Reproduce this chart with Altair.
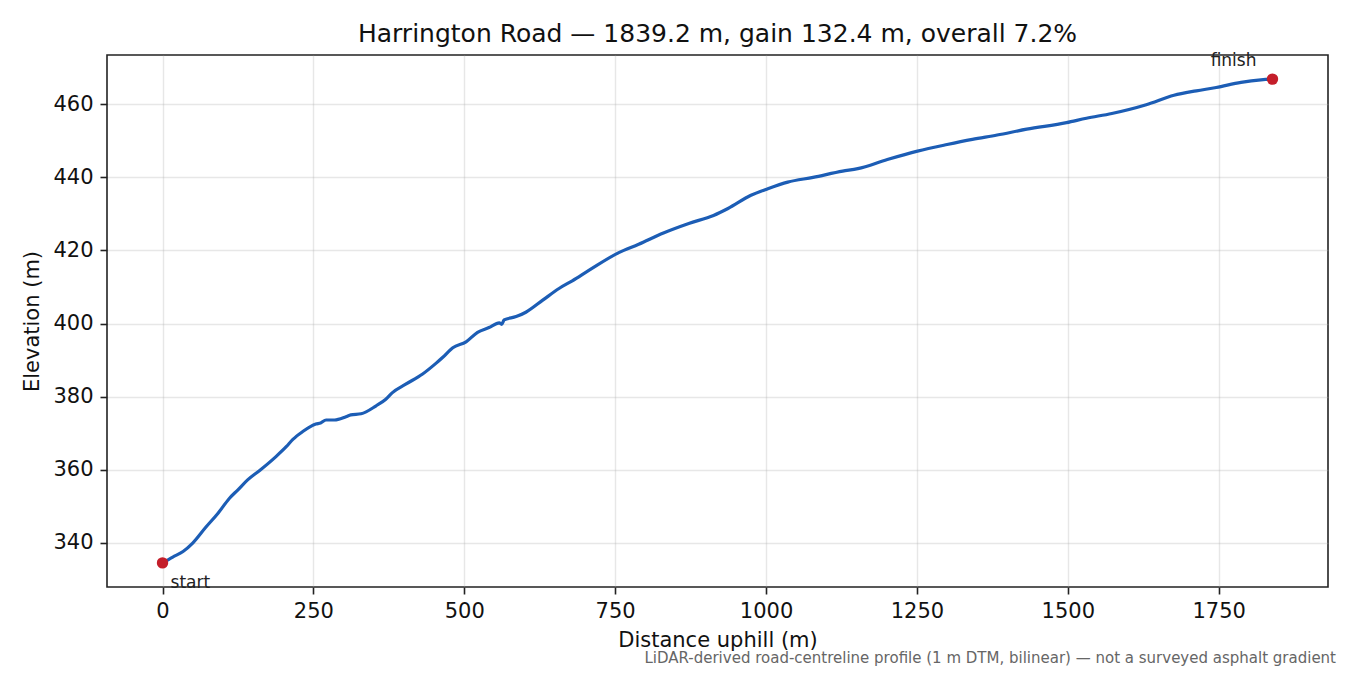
import altair as alt
import pandas as pd

FONT = "DejaVu Sans"
LINE_COLOR = "#1c5db5"
POINT_COLOR = "#c41e2a"

# distance along the road (m) and elevation (m)
distance = [0, 17, 34, 50, 72, 92, 111, 125, 141, 161, 188, 205, 216, 232, 254,
            262, 271, 285, 304, 312, 329, 354, 370, 381, 403, 431, 453, 464, 481,
            503, 522, 541, 558, 562, 566, 586, 602, 630, 657, 679, 707, 756, 789,
            830, 872, 913, 937, 975, 1003, 1036, 1078, 1127, 1152, 1201, 1251,
            1300, 1342, 1383, 1432, 1498, 1531, 1573, 1630, 1676, 1713, 1746,
            1787, 1820, 1839.2]
elevation = [334.5, 336.1, 337.6, 339.9, 344.3, 348.1, 352.2, 354.5, 357.2, 359.8,
             363.6, 366.3, 368.3, 370.4, 372.5, 372.8, 373.6, 373.6, 374.5, 375.0,
             375.3, 377.5, 379.3, 381.1, 383.4, 386.2, 389.1, 390.7, 393.4, 395.0,
             397.6, 398.9, 400.2, 399.8, 401.0, 401.9, 403.1, 406.4, 409.6, 411.7,
             414.6, 419.4, 421.7, 424.8, 427.4, 429.6, 431.5, 435.1, 436.9, 438.7,
             440.0, 441.7, 442.4, 444.9, 447.2, 449.0, 450.4, 451.6, 453.2, 455.0,
             456.2, 457.5, 459.9, 462.5, 463.7, 464.6, 466.0, 466.7, 466.9]

end_labels = ["start", "finish"]
end_distance = [0, 1839.2]
end_elevation = [334.5, 466.9]

x_ticks = [0, 250, 500, 750, 1000, 1250, 1500, 1750]
y_ticks = [340, 360, 380, 400, 420, 440, 460]

profile = pd.DataFrame({"distance": distance, "elevation": elevation})
ends = pd.DataFrame({"label": end_labels, "distance": end_distance, "elevation": end_elevation})

x_enc = alt.X("distance:Q").scale(domain=[-92, 1931.2], nice=False, zero=False).axis(
    values=x_ticks, format="d", title="Distance uphill (m)", grid=True)
y_enc = alt.Y("elevation:Q").scale(domain=[327.9, 473.5], nice=False, zero=False).axis(
    values=y_ticks, format="d", title="Elevation (m)", grid=True)

line = alt.Chart(profile).mark_line(
    color=LINE_COLOR, strokeWidth=3.2, interpolate="monotone"
).encode(x_enc, y_enc)

dots = alt.Chart(ends).mark_circle(color=POINT_COLOR, size=130, opacity=1).encode(
    x="distance:Q", y="elevation:Q")

start_txt = alt.Chart(ends[ends.label == "start"]).mark_text(
    align="left", baseline="alphabetic", dx=8, dy=25, fontSize=17, font=FONT, color="#222"
).encode(x="distance:Q", y="elevation:Q", text="label:N")

finish_txt = alt.Chart(ends[ends.label == "finish"]).mark_text(
    align="right", baseline="alphabetic", dx=-16, dy=-13, fontSize=17, font=FONT, color="#222"
).encode(x="distance:Q", y="elevation:Q", text="label:N")

note = alt.Chart(pd.DataFrame({"t": ["LiDAR-derived road-centreline profile (1 m DTM, bilinear) — not a surveyed asphalt gradient"]})).mark_text(
    align="right", baseline="alphabetic", fontSize=15, font=FONT, color="#666"
).encode(x=alt.value(1229), y=alt.value(608), text="t:N")

chart = (line + dots + start_txt + finish_txt + note).properties(
    width=1221, height=532,
    title=alt.Title("Harrington Road — 1839.2 m, gain 132.4 m, overall 7.2%",
                    fontSize=25, font=FONT, fontWeight="normal", color="#111",
                    anchor="middle", offset=8, baseline="bottom", dy=28),
    autosize=alt.AutoSizeParams(type="none"),
    padding={"left": 99, "top": 47, "right": 14, "bottom": 80},
).configure_view(
    stroke="#222", strokeWidth=1.6
).configure_axis(
    domain=False, labelFont=FONT, titleFont=FONT, labelFontSize=21, titleFontSize=21,
    titleFontWeight="normal", labelColor="#111", titleColor="#111",
    tickColor="#222", tickWidth=1.6, tickSize=7, labelPadding=6,
    gridColor="#b0b0b0", gridOpacity=0.3, gridWidth=1.4
).configure_axisX(titlePadding=8).configure_axisY(titlePadding=10, labelPadding=7)

chart.save("out.html", embed_options={"renderer": "svg", "actions": False})
